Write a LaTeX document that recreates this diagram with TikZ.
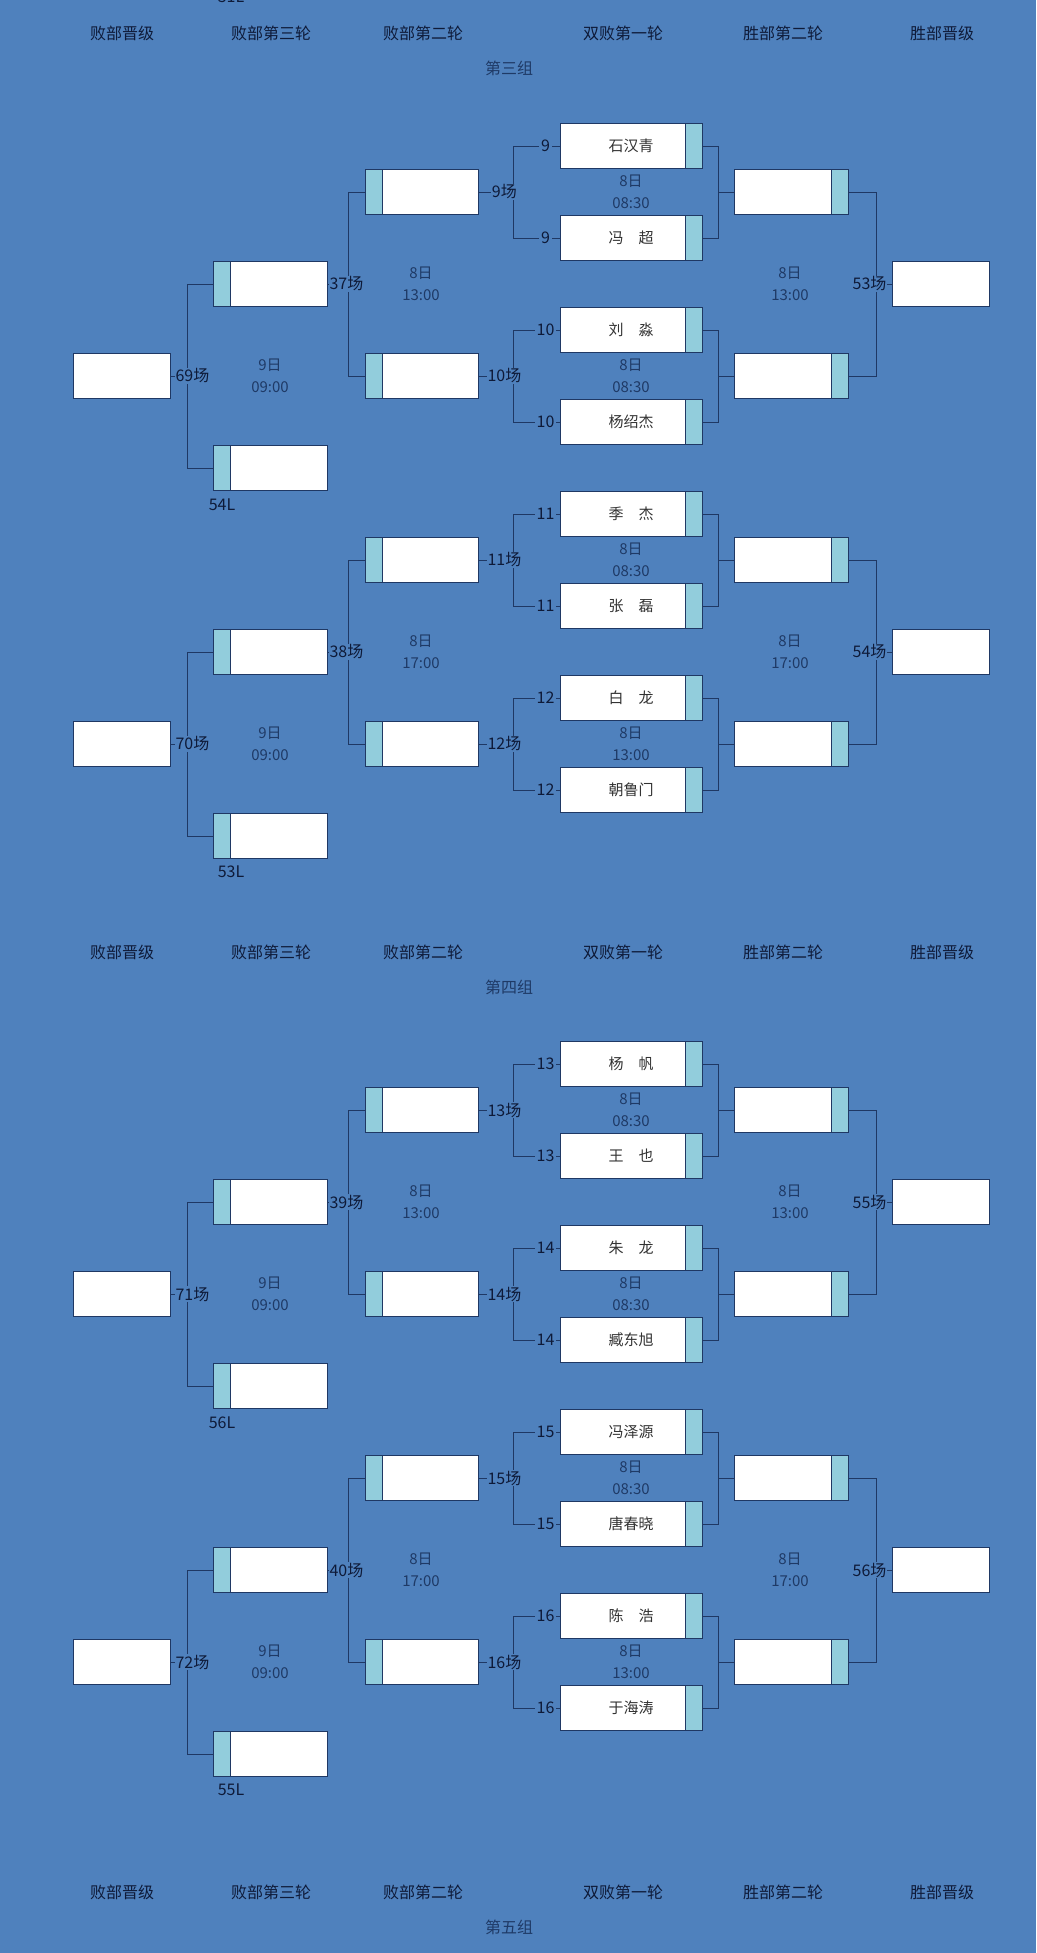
\documentclass[tikz,border=0pt]{standalone}
\usepackage{fontspec}
\setmainfont{Noto Sans CJK SC}
\usetikzlibrary{calc}
\definecolor{bg}{HTML}{4F81BD}
\definecolor{strp}{HTML}{92CDDC}
\definecolor{ln}{HTML}{1F3864}
\definecolor{hd}{HTML}{0E1A38}
\definecolor{tm}{HTML}{1F3A66}
\definecolor{nm}{HTML}{333333}
\tikzset{
  box/.style={draw=ln,line width=0.8pt,fill=white,minimum width=#1,minimum height=45pt,inner sep=0pt,font=\fontsize{15}{17}\selectfont,text=nm},
  box/.default=142pt,
  sright/.style={path picture={\fill[strp]([xshift=-17pt]path picture bounding box.north east) rectangle (path picture bounding box.south east);
      \draw[ln,line width=0.6pt]([xshift=-17pt]path picture bounding box.north east) -- ([xshift=-17pt]path picture bounding box.south east);}},
  sleft/.style={path picture={\fill[strp](path picture bounding box.north west) rectangle ([xshift=17pt]path picture bounding box.south west);
      \draw[ln,line width=0.6pt]([xshift=17pt]path picture bounding box.north west) -- ([xshift=17pt]path picture bounding box.south west);}},
  con/.style={draw=ln,line width=0.8pt},
  lab/.style={fill=bg,inner sep=1pt,text=hd,font=\fontsize{16}{18}\selectfont},
  tim/.style={text=tm,font=\fontsize{15}{22}\selectfont,align=center,inner sep=0pt},
  hdr/.style={text=hd,font=\fontsize{16}{18}\selectfont},
}
\newcommand\hdrrow[2]{%
  \node[hdr] at (122,#1) {败部晋级};
  \node[hdr] at (271,#1) {败部第三轮};
  \node[hdr] at (423,#1) {败部第二轮};
  \node[hdr] at (623,#1) {双败第一轮};
  \node[hdr] at (783,#1) {胜部第二轮};
  \node[hdr] at (942,#1) {胜部晋级};
  \node[hdr,text=tm] at (509,#1+35) {#2};}
\newcommand\grp[2]{%
\begin{scope}[yshift=-#2pt]
 \foreach \i/\yy in {1/146,2/238,3/330,4/422,5/514,6/606,7/698,8/790}{
   \node[box,sright] (#1p\i) at (631,\yy) {\csname nm\i\endcsname};}
 \foreach \i/\yy in {1/192,2/376,3/560,4/744}{
   \node[box=114pt,sright] (#1w\i) at (791,\yy) {};
   \node[box=113pt,sleft] (#1l\i) at (421.5,\yy) {};}
 \node[box=97pt] (#1wf1) at (940.5,284) {};
 \node[box=97pt] (#1wf2) at (940.5,652) {};
 \foreach \i/\yy in {1/284,2/468,3/652,4/836}{
   \node[box=114pt,sleft] (#1t\i) at (270,\yy) {};}
 \node[box=97pt] (#1f1) at (121.5,376) {};
 \node[box=97pt] (#1f2) at (121.5,744) {};
 \foreach \a/\b/\w/\m in {1/2/1/mA,3/4/2/mB,5/6/3/mC,7/8/4/mD}{
   \path[con] (#1p\a.west) -- ++(-46,0) |- (#1p\b.west);
   \path[con] (#1p\a.east) -- ++(16,0) |- (#1p\b.east);
   \path[con] ($(#1p\a.east)!0.5!(#1p\b.east)+(16,0)$) -- (#1w\w.west);
   \path[con] (#1l\w.east) -- ++(36,0);
   \node[lab,inner xsep=2pt] at ($(#1p\a.west)+(-14,0)$) {\csname\m\endcsname};
   \node[lab,inner xsep=2pt] at ($(#1p\b.west)+(-14,0)$) {\csname\m\endcsname};
   \node[lab] at ($(#1l\w.east)+(26,0)$) {\csname\m\endcsname{}场};
   \node[tim] at ($(#1p\a.south)!0.5!(#1p\b.north)$) {8日\\\csname t\m\endcsname};}
 \foreach \a/\b/\f/\k/\tg in {1/2/1/wA/1,3/4/2/wB/3}{
   \path[con] (#1w\a.east) -- ++(28,0) |- (#1w\b.east);
   \path[con] ($(#1w\a.east)!0.5!(#1w\b.east)+(28,0)$) -- (#1wf\f.west);
   \node[lab] at ($(#1wf\f.west)+(-22,0)$) {\csname\k\endcsname{}场};
   \path[con] (#1l\a.west) -- ++(-16,0) |- (#1l\b.west);
   \path[con] ($(#1l\a.west)!0.5!(#1l\b.west)+(-16,0)$) -- (#1t\tg.east);}
 \node[lab] at ($(#1t1.east)+(19,0)$) {\lA{}场};
 \node[lab] at ($(#1t3.east)+(19,0)$) {\lB{}场};
 \node[tim] at (790,284) {8日\\13:00};
 \node[tim] at (790,652) {8日\\17:00};
 \node[tim] at (421,284) {8日\\13:00};
 \node[tim] at (421,652) {8日\\17:00};
 \foreach \a/\b/\f/\k in {1/2/1/fA,3/4/2/fB}{
   \path[con] (#1t\a.west) -- ++(-25,0) |- (#1t\b.west);
   \path[con] ($(#1t\a.west)!0.5!(#1t\b.west)+(-25,0)$) -- (#1f\f.east);
   \node[lab] at ($(#1f\f.east)+(22,0)$) {\csname\k\endcsname{}场};}
 \node[tim] at (270,376) {9日\\09:00};
 \node[tim] at (270,744) {9日\\09:00};
 \node[lab,fill=none] at (222,505) {\xA};
 \node[lab,fill=none] at (231,872) {\xB};
\end{scope}}
\begin{document}
\begin{tikzpicture}[x=1pt,y=-1pt]
\fill[bg] (0,0) rectangle (1036,1953);
\useasboundingbox (0,0) rectangle (1036,1953);
\node[lab,fill=none] at (231,-3) {31L};
\hdrrow{33}{第三组}
\expandafter\def\csname nm1\endcsname{石汉青}\expandafter\def\csname nm2\endcsname{冯\hspace{1em}超}
\expandafter\def\csname nm3\endcsname{刘\hspace{1em}淼}\expandafter\def\csname nm4\endcsname{杨绍杰}
\expandafter\def\csname nm5\endcsname{季\hspace{1em}杰}\expandafter\def\csname nm6\endcsname{张\hspace{1em}磊}
\expandafter\def\csname nm7\endcsname{白\hspace{1em}龙}\expandafter\def\csname nm8\endcsname{朝鲁门}
\def\mA{9}\def\mB{10}\def\mC{11}\def\mD{12}
\def\tmA{08:30}\def\tmB{08:30}\def\tmC{08:30}\def\tmD{13:00}
\def\wA{53}\def\wB{54}\def\lA{37}\def\lB{38}\def\fA{69}\def\fB{70}\def\xA{54L}\def\xB{53L}
\grp{a}{0}
\hdrrow{952}{第四组}
\expandafter\def\csname nm1\endcsname{杨\hspace{1em}帆}\expandafter\def\csname nm2\endcsname{王\hspace{1em}也}
\expandafter\def\csname nm3\endcsname{朱\hspace{1em}龙}\expandafter\def\csname nm4\endcsname{臧东旭}
\expandafter\def\csname nm5\endcsname{冯泽源}\expandafter\def\csname nm6\endcsname{唐春晓}
\expandafter\def\csname nm7\endcsname{陈\hspace{1em}浩}\expandafter\def\csname nm8\endcsname{于海涛}
\def\mA{13}\def\mB{14}\def\mC{15}\def\mD{16}
\def\wA{55}\def\wB{56}\def\lA{39}\def\lB{40}\def\fA{71}\def\fB{72}\def\xA{56L}\def\xB{55L}
\grp{b}{918}
\hdrrow{1892}{第五组}
\end{tikzpicture}
\end{document}
